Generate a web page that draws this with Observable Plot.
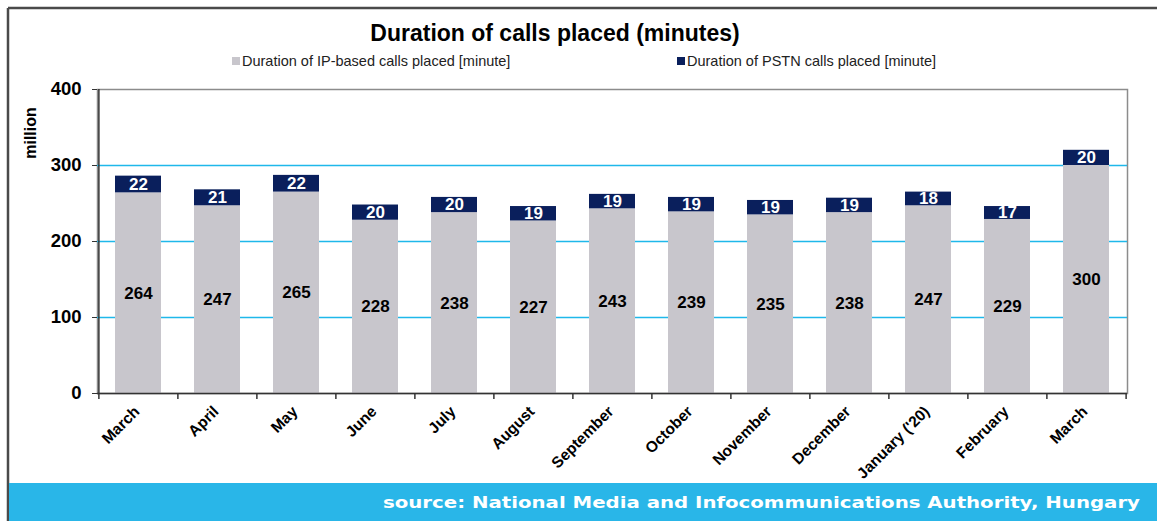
<!DOCTYPE html>
<html><head><meta charset="utf-8">
<script src="https://cdn.jsdelivr.net/npm/d3@7"></script>
<script src="https://cdn.jsdelivr.net/npm/@observablehq/plot@0.6"></script>
<style>
html,body{margin:0;padding:0;background:#fff;}
#wrap{position:relative;width:1157px;height:521px;overflow:hidden;font-family:"Liberation Sans",Arial,sans-serif;}
#chart{position:absolute;left:0;top:0;}
#overlay{position:absolute;left:0;top:0;pointer-events:none;}
</style></head><body>
<div id="wrap"><svg id="overlay" width="1157" height="521" xmlns="http://www.w3.org/2000/svg"></svg><div id="chart"></div></div>
<script>
const months = ["March","April","May","June","July","August","September","October","November","December","January ('20)","February","March"];
const ipMinutes = [264,247,265,228,238,227,243,239,235,238,247,229,300];
const pstnMinutes = [22,21,22,20,20,19,19,19,19,19,18,17,20];
const seriesKeys = ["IP","PSTN"];
const seriesNames = ["Duration of IP-based calls placed [minute]","Duration of PSTN calls placed [minute]"];
const seriesColors = ["#c8c6cc","#0a1f5c"];
const yTicks = [0,100,200,300,400];
const gridTicks = [100,200,300];
const titleText = "Duration of calls placed (minutes)";
const yLabel = "million";
const sourceText = "source: National Media and Infocommunications Authority, Hungary";

const W = 1157, H = 521, mL = 97, mR = 30, mT = 89, mB = 128;
const step = (W - mL - mR) / months.length;
const idx = months.map((_, i) => i);
const rows = idx.flatMap(i => [
  {i, series: seriesKeys[0], value: ipMinutes[i]},
  {i, series: seriesKeys[1], value: pstnMinutes[i]}
]);
const font = '"Liberation Sans", Arial, sans-serif';
const gridColor = "#1fb8ea";

// Overlay (drawn beneath the chart): outer border, title, legend, axis label, source band
const ov = d3.select("#overlay").style("font-family", font);
ov.append("line").attr("x1", 8).attr("y1", 8).attr("x2", W).attr("y2", 8)
  .attr("stroke", "#4a4a4a").attr("stroke-width", 2.5);
ov.append("line").attr("x1", 8).attr("y1", 8).attr("x2", 8).attr("y2", H)
  .attr("stroke", "#4a4a4a").attr("stroke-width", 2.5);
ov.append("text").attr("x", 555).attr("y", 41).attr("text-anchor", "middle")
  .attr("font-size", 23).attr("font-weight", "bold").attr("fill", "#000").text(titleText);
const legendX = [232, 677];
seriesNames.forEach((name, k) => {
  ov.append("rect").attr("x", legendX[k]).attr("y", 57).attr("width", 8).attr("height", 8)
    .attr("fill", seriesColors[k]);
  ov.append("text").attr("x", legendX[k] + 10).attr("y", 66).attr("font-size", 14.5)
    .attr("fill", "#222").text(name);
});
ov.append("text").attr("transform", "translate(36,133) rotate(-90)").attr("text-anchor", "middle")
  .attr("font-size", 16).attr("font-weight", "bold").attr("fill", "#000").text(yLabel);
ov.append("rect").attr("x", 9).attr("y", 483).attr("width", W - 9).attr("height", H - 483)
  .attr("fill", "#29b6e8");
ov.append("text").attr("x", 1140).attr("y", 508).attr("text-anchor", "end")
  .attr("font-family", '"DejaVu Sans", Verdana, sans-serif').attr("font-weight", "bold")
  .attr("font-size", 15).attr("fill", "#fff")
  .attr("textLength", 757).attr("lengthAdjust", "spacingAndGlyphs").text(sourceText);

const plot = Plot.plot({
  width: W, height: H,
  marginLeft: mL, marginRight: mR, marginTop: mT, marginBottom: mB,
  style: {fontFamily: font, background: "transparent", overflow: "visible"},
  x: {type: "band", domain: idx, paddingInner: 0.42, paddingOuter: 0.21, align: 0.5, axis: null},
  y: {domain: [0, 400], axis: null},
  color: {domain: seriesKeys, range: seriesColors},
  marks: [
    Plot.frame({stroke: "#8c8c8c", strokeWidth: 1.5}),
    Plot.ruleY(gridTicks, {stroke: gridColor, strokeOpacity: 1, strokeWidth: 1.3, ariaLabel: "grid-rule"}),
    Plot.barY(rows, {x: "i", y: "value", fill: "series", z: "series"}),
    Plot.text(rows, Plot.stackY({x: "i", y: "value", z: "series",
      text: d => d.series === "IP" ? d.value : null, fill: "#000", fontSize: 17, fontWeight: "bold"})),
    Plot.text(rows, Plot.stackY({x: "i", y: "value", z: "series",
      text: d => d.series === "PSTN" ? d.value : null, fill: "#fff", fontSize: 17, fontWeight: "bold"})),
    Plot.ruleY([0], {stroke: "#333", strokeWidth: 1.5}),
    Plot.ruleX([0], {x: d => d, dx: -step / 2, y1: 0, y2: 400, stroke: "#333", strokeWidth: 1.5}),
    Plot.axisY({ticks: yTicks, tickSize: 5, tickPadding: 11, fontSize: 18.5, fontWeight: "bold",
      label: null, tickFormat: d => d, color: "#000", stroke: "#333"}),
    Plot.ruleX(idx, {x: d => d, dx: -step / 2, y1: 0, y2: 0, insetBottom: -6, stroke: "#333", strokeWidth: 1.5}),
    Plot.ruleX([idx[idx.length - 1]], {x: d => d, dx: step / 2, y1: 0, y2: 0, insetBottom: -6, stroke: "#333", strokeWidth: 1.5}),
    Plot.text(idx, {x: d => d, text: d => months[d], frameAnchor: "bottom", rotate: -45,
      textAnchor: "end", dy: 19, dx: 2, fontSize: 15.5, fontWeight: "bold", fill: "#000"})
  ]
});
// make sure the gridline colour is applied on the group and each line
d3.select(plot).selectAll('g[aria-label="grid-rule"], g[aria-label="grid-rule"] line')
  .attr("stroke", gridColor).style("stroke", gridColor);
document.getElementById("chart").appendChild(plot);
</script>
</body></html>
